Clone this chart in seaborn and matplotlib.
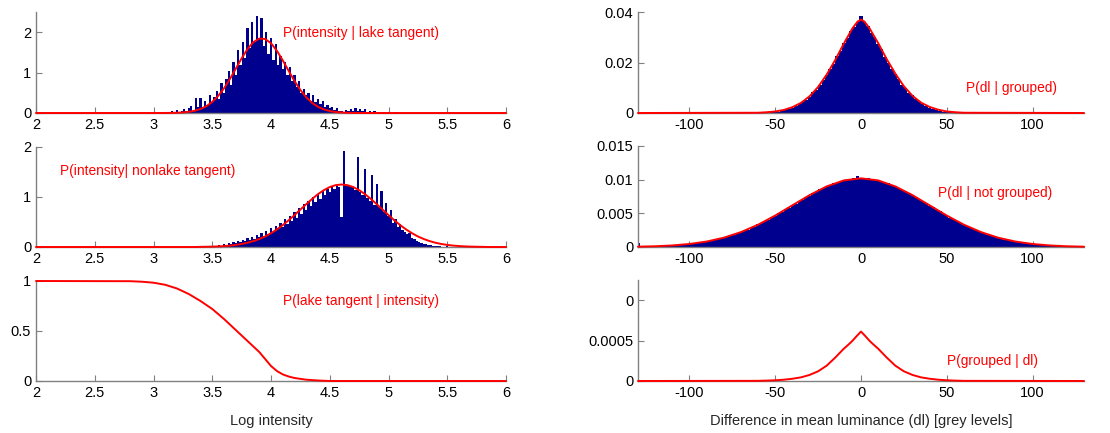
import numpy as np
import matplotlib
matplotlib.use('Agg')
import matplotlib.pyplot as plt
import seaborn as sns

# ---- data ----
# histogram of log intensity on lake tangents (bins of 0.02 starting at 3.00)
lake_start, lake_bin = 3.00, 0.02
lake_hist = [
    0.01, 0.00, 0.02, 0.00, 0.01, 0.03, 0.02, 0.00, 0.05, 0.03,
    0.08, 0.02, 0.06, 0.10, 0.04, 0.12, 0.18, 0.06, 0.38, 0.15,
    0.36, 0.12, 0.30, 0.20, 0.45, 0.28, 0.40, 0.55, 0.35, 0.75,
    0.50, 0.85, 1.05, 0.70, 1.25, 0.95, 1.55, 1.20, 1.75, 1.35,
    2.10, 1.60, 2.25, 1.75, 2.40, 1.85, 2.35, 1.65, 2.00, 1.45,
    1.85, 1.30, 1.70, 1.20, 1.40, 1.10, 1.25, 0.95, 1.15, 0.80,
    0.95, 0.65, 0.80, 0.50, 0.60, 0.45, 0.50, 0.30, 0.45, 0.28,
    0.35, 0.22, 0.30, 0.15, 0.20, 0.12, 0.15, 0.08, 0.12, 0.06,
    0.06, 0.03, 0.07, 0.04, 0.10, 0.06, 0.12, 0.05, 0.09, 0.04,
    0.10, 0.03, 0.06, 0.02, 0.04, 0.01, 0.03, 0.00, 0.02, 0.00,
    0.03, 0.01, 0.00, 0.02, 0.00, 0.01,
]
lake_fit_x = [2.0, 3.0, 3.05, 3.1, 3.15, 3.2, 3.25, 3.3, 3.35, 3.4, 3.45, 3.5,
              3.55, 3.6, 3.65, 3.7, 3.75, 3.8, 3.85, 3.9, 3.95, 4.0, 4.05,
              4.1, 4.15, 4.2, 4.25, 4.3, 4.35, 4.4, 4.45, 4.5, 4.55, 4.6,
              4.65, 4.7, 4.75, 4.8, 4.85, 6.0]
lake_fit_y = [0.0, 0.0002, 0.0005, 0.0013, 0.003, 0.007, 0.014, 0.029, 0.055,
              0.100, 0.169, 0.274, 0.421, 0.610, 0.840, 1.095, 1.353, 1.583,
              1.755, 1.842, 1.832, 1.727, 1.541, 1.303, 1.044, 0.792, 0.570,
              0.388, 0.250, 0.153, 0.088, 0.049, 0.025, 0.012, 0.006, 0.003,
              0.001, 0.0005, 0.0, 0.0]

# histogram of log intensity on non-lake tangents
nonlake_start, nonlake_bin = 3.50, 0.02
nonlake_hist = [
    0.01, 0.02, 0.01, 0.03, 0.02, 0.05, 0.03, 0.07, 0.05, 0.10,
    0.07, 0.12, 0.09, 0.14, 0.11, 0.17, 0.13, 0.20, 0.16, 0.24,
    0.19, 0.28, 0.22, 0.32, 0.26, 0.37, 0.30, 0.42, 0.35, 0.48,
    0.40, 0.55, 0.45, 0.62, 0.52, 0.70, 0.58, 0.78, 0.66, 0.86,
    0.74, 0.93, 0.82, 1.00, 0.90, 1.06, 0.97, 1.12, 1.05, 1.17,
    1.10, 1.20, 1.16, 1.23, 1.20, 0.60, 1.92, 1.25, 1.24, 1.22,
    1.20, 1.15, 1.80, 1.10, 1.05, 1.56, 0.98, 0.92, 1.45, 0.85,
    1.27, 0.80, 1.12, 0.70, 0.88, 0.62, 0.75, 0.48, 0.55, 0.40,
    0.45, 0.33, 0.30, 0.25, 0.28, 0.18, 0.15, 0.12, 0.10, 0.08,
    0.06, 0.05, 0.04, 0.03, 0.02, 0.02, 0.01, 0.01, 0.00, 0.00,
    0.01,
]
nonlake_fit_x = [2.0, 3.35, 3.4, 3.45, 3.5, 3.55, 3.6, 3.65, 3.7, 3.75, 3.8,
                 3.85, 3.9, 3.95, 4.0, 4.05, 4.1, 4.15, 4.2, 4.25, 4.3, 4.35,
                 4.4, 4.45, 4.5, 4.55, 4.6, 4.65, 4.7, 4.75, 4.8, 4.85, 4.9,
                 4.95, 5.0, 5.05, 5.1, 5.15, 5.2, 5.25, 5.3, 5.35, 5.4, 5.45,
                 5.5, 5.55, 5.6, 5.65, 5.7, 5.75, 5.8, 5.85, 6.0]
nonlake_fit_y = [0.0, 0.0, 0.003, 0.005, 0.008, 0.012, 0.019, 0.028, 0.042,
                 0.060, 0.085, 0.118, 0.160, 0.211, 0.276, 0.351, 0.437,
                 0.534, 0.638, 0.748, 0.856, 0.961, 1.057, 1.137, 1.199,
                 1.237, 1.250, 1.237, 1.199, 1.137, 1.057, 0.961, 0.856,
                 0.748, 0.638, 0.534, 0.437, 0.351, 0.276, 0.211, 0.160,
                 0.118, 0.085, 0.060, 0.042, 0.028, 0.019, 0.012, 0.008,
                 0.005, 0.003, 0.0, 0.0]

# posterior P(lake tangent | intensity)
posterior_x = [2.0, 2.8, 2.9, 3.0, 3.1, 3.2, 3.3, 3.4, 3.5, 3.6, 3.7, 3.75,
               3.8, 3.85, 3.9, 3.95, 4.0, 4.05, 4.1, 4.15, 4.2, 4.3, 4.4,
               4.5, 6.0]
posterior_y = [1.0, 0.998, 0.993, 0.983, 0.962, 0.925, 0.87, 0.80, 0.72,
               0.62, 0.51, 0.455, 0.40, 0.345, 0.29, 0.22, 0.15, 0.10,
               0.066, 0.045, 0.03, 0.013, 0.005, 0.0, 0.0]

# histogram of dl for grouped pairs (bins of 2 grey levels)
grouped_start, grouped_bin = -60, 2
grouped_hist = [
    0.0000, 0.0000, 0.0002, 0.0001, 0.0002, 0.0004, 0.0005, 0.0008,
    0.0012, 0.0016, 0.0021, 0.0028, 0.0034, 0.0043, 0.0052, 0.0062,
    0.0085, 0.0092, 0.0110, 0.0130, 0.0150, 0.0176, 0.0195, 0.0225,
    0.0246, 0.0278, 0.0296, 0.0326, 0.0340, 0.0360, 0.0385, 0.0362,
    0.0345, 0.0318, 0.0300, 0.0272, 0.0252, 0.0220, 0.0200, 0.0174,
    0.0155, 0.0135, 0.0112, 0.0098, 0.0080, 0.0070, 0.0055, 0.0046,
    0.0034, 0.0028, 0.0021, 0.0016, 0.0011, 0.0008, 0.0005, 0.0003,
    0.0002, 0.0001, 0.0001, 0.0000, 0.0001,
]
grouped_fit_x = [-130, -60, -55, -50, -45, -40, -35, -30, -25, -20, -15, -10,
                 -5, -2, 0, 2, 5, 10, 15, 20, 25, 30, 35, 40, 45, 50, 55, 60,
                 130]
grouped_fit_y = [0.0, 0.0001, 0.0003, 0.0006, 0.0012, 0.0023, 0.0040, 0.0066,
                 0.0103, 0.0152, 0.0210, 0.0275, 0.0335, 0.0362, 0.0370,
                 0.0362, 0.0335, 0.0277, 0.0213, 0.0156, 0.0106, 0.0068,
                 0.0041, 0.0024, 0.0013, 0.0006, 0.0003, 0.0001, 0.0]

# histogram of dl for non-grouped pairs (values in 1e-3, bins of 2)
notgrouped_start, notgrouped_bin = -130, 2
notgrouped_hist_milli = [
    0.55, 0.06, 0.07, 0.09, 0.10, 0.12, 0.13, 0.16, 0.17, 0.21,
    0.22, 0.28, 0.29, 0.36, 0.38, 0.46, 0.50, 0.58, 0.63, 0.74,
    0.80, 0.93, 0.99, 1.14, 1.23, 1.40, 1.50, 1.71, 1.82, 2.05,
    2.18, 2.44, 2.58, 2.88, 3.02, 3.35, 3.50, 3.88, 4.05, 4.42,
    4.60, 5.00, 5.20, 5.62, 5.80, 6.24, 6.42, 6.86, 7.02, 7.48,
    7.62, 8.05, 8.18, 8.60, 8.70, 9.08, 9.15, 9.50, 9.52, 9.82,
    9.85, 10.08, 10.05, 10.22, 10.48, 10.30, 10.10, 10.18, 9.95, 9.96,
    9.80, 9.82, 9.52, 9.48, 9.25, 9.00, 8.80, 8.50, 8.30, 7.95,
    7.74, 7.38, 7.15, 6.78, 6.54, 6.16, 5.92, 5.55, 5.30, 4.94,
    4.70, 4.36, 4.12, 3.82, 3.58, 3.30, 3.08, 2.83, 2.63, 2.40,
    2.22, 2.01, 1.85, 1.67, 1.53, 1.37, 1.26, 1.11, 1.02, 0.90,
    0.82, 0.71, 0.65, 0.56, 0.52, 0.44, 0.40, 0.34, 0.31, 0.26,
    0.24, 0.19, 0.18, 0.14, 0.13, 0.10, 0.10, 0.08, 0.07, 0.06,
    0.05,
]
notgrouped_fit_x = [-130, -120, -110, -100, -90, -80, -70, -60, -50, -40, -30,
                    -20, -10, 0, 10, 20, 30, 40, 50, 60, 70, 80, 90, 100, 110,
                    120, 130]
notgrouped_fit_y = [0.00005, 0.00011, 0.00023, 0.00045, 0.00081, 0.00138,
                    0.00221, 0.00331, 0.00467, 0.00619, 0.00770, 0.00900,
                    0.00989, 0.01020, 0.00989, 0.00900, 0.00770, 0.00619,
                    0.00467, 0.00331, 0.00221, 0.00138, 0.00081, 0.00045,
                    0.00023, 0.00011, 0.00005]

# posterior P(grouped | dl)
pgrouped_x = [-130, -60, -55, -50, -45, -40, -35, -30, -25, -20, -15, -10,
              -7.5, -5, -2.5, 0, 2.5, 5, 7.5, 10, 15, 20, 25, 30, 35, 40, 45,
              50, 55, 60, 130]
pgrouped_y = [0.0, 0.000002, 0.000005, 0.000009, 0.000016, 0.000028,
              0.000045, 0.000075, 0.00012, 0.00019, 0.00029, 0.00040,
              0.000447, 0.000497, 0.000556, 0.000612, 0.000556, 0.000497,
              0.000447, 0.00040, 0.00029, 0.00019, 0.00012, 0.000075,
              0.000045, 0.000028, 0.000016, 0.000009, 0.000005, 0.000002,
              0.0]

intensity_ticks = [2, 2.5, 3, 3.5, 4, 4.5, 5, 5.5, 6]
intensity_ticklabels = ['2', '2.5', '3', '3.5', '4', '4.5', '5', '5.5', '6']
dl_ticks = [-100, -50, 0, 50, 100]

NAVY = '#00008f'
RED = '#ff0000'
GREY = '#808080'

sns.set_style('ticks')
plt.rcParams['font.family'] = ['Liberation Sans', 'DejaVu Sans']


def draw_hist(ax, start, width, heights):
    centers = start + width * np.arange(len(heights))
    sns.histplot(x=centers, weights=heights, binwidth=width,
                 binrange=(centers[0] - width / 2, centers[-1] + width / 2),
                 color=NAVY, alpha=1, linewidth=0, ax=ax)


def draw_curve(ax, x, y):
    sns.lineplot(x=x, y=y, color=RED, linewidth=1.4, estimator=None, ax=ax)
    ax.lines[-1].set_clip_on(False)
    ax.lines[-1].set_zorder(5)


def style(ax, xlim, ylim, xticks, xticklabels, yticks, yticklabels):
    ax.set(xlim=xlim, ylim=ylim, xlabel='', ylabel='')
    ax.set_xticks(xticks)
    ax.set_xticklabels(xticklabels)
    ax.set_yticks(yticks)
    ax.set_yticklabels(yticklabels)
    for side in ['top', 'right']:
        ax.spines[side].set_visible(False)
    for side in ['left', 'bottom']:
        ax.spines[side].set_color(GREY)
        ax.spines[side].set_linewidth(1.0)
    ax.tick_params(direction='in', length=4, color=GREY, labelcolor='black',
                   labelsize=10.5, pad=3.5)


fig = plt.figure(figsize=(11.1, 4.33), dpi=100)
W, H = 1110, 433


def add_axes(x0, x1, top, bottom):
    return fig.add_axes([x0 / W, 1 - bottom / H, (x1 - x0) / W, (bottom - top) / H])


ax1 = add_axes(36, 506, 12, 113)
ax2 = add_axes(36, 506, 147, 247)
ax3 = add_axes(36, 506, 281, 381)
ax4 = add_axes(638, 1084, 12, 113)
ax5 = add_axes(638, 1084, 146, 247)
ax6 = add_axes(638, 1084, 280, 381)

# left column
draw_hist(ax1, lake_start, lake_bin, lake_hist)
draw_curve(ax1, lake_fit_x, lake_fit_y)
style(ax1, (2, 6), (0, 2.5), intensity_ticks, intensity_ticklabels,
      [0, 1, 2], ['0', '1', '2'])
ax1.text(4.1, 1.98, 'P(intensity | lake tangent)', color=RED, fontsize=9.9,
         va='center')

draw_hist(ax2, nonlake_start, nonlake_bin, nonlake_hist)
draw_curve(ax2, nonlake_fit_x, nonlake_fit_y)
style(ax2, (2, 6), (0, 2), intensity_ticks, intensity_ticklabels,
      [0, 1, 2], ['0', '1', '2'])
ax2.text(2.2, 1.52, 'P(intensity| nonlake tangent)', color=RED, fontsize=9.9,
         va='center')

draw_curve(ax3, posterior_x, posterior_y)
style(ax3, (2, 6), (0, 1), intensity_ticks, intensity_ticklabels,
      [0, 0.5, 1], ['0', '0.5', '1'])
ax3.text(4.1, 0.80, 'P(lake tangent | intensity)', color=RED, fontsize=9.9,
         va='center')
ax3.set_xlabel('Log intensity', fontsize=10.5, labelpad=10)

# right column
draw_hist(ax4, grouped_start, grouped_bin, grouped_hist)
draw_curve(ax4, grouped_fit_x, grouped_fit_y)
style(ax4, (-130, 130), (0, 0.04), dl_ticks, [str(t) for t in dl_ticks],
      [0, 0.02, 0.04], ['0', '0.02', '0.04'])
ax4.text(61, 0.0099, 'P(dl | grouped)', color=RED, fontsize=9.9, va='center')

draw_hist(ax5, notgrouped_start, notgrouped_bin,
          np.array(notgrouped_hist_milli) * 1e-3)
draw_curve(ax5, notgrouped_fit_x, notgrouped_fit_y)
style(ax5, (-130, 130), (0, 0.015), dl_ticks, [str(t) for t in dl_ticks],
      [0, 0.005, 0.01, 0.015], ['0', '0.005', '0.01', '0.015'])
ax5.text(45, 0.0080, 'P(dl | not grouped)', color=RED, fontsize=9.9,
         va='center')

draw_curve(ax6, pgrouped_x, pgrouped_y)
style(ax6, (-130, 130), (0, 0.00125), dl_ticks, [str(t) for t in dl_ticks],
      [0, 0.0005, 0.001], ['0', '0.0005', '0'])
ax6.text(50, 0.00025, 'P(grouped | dl)', color=RED, fontsize=9.9, va='center')
ax6.set_xlabel('Difference in mean luminance (dl) [grey levels]', fontsize=10.5,
               labelpad=10)

fig.savefig('out.png', dpi=100)
